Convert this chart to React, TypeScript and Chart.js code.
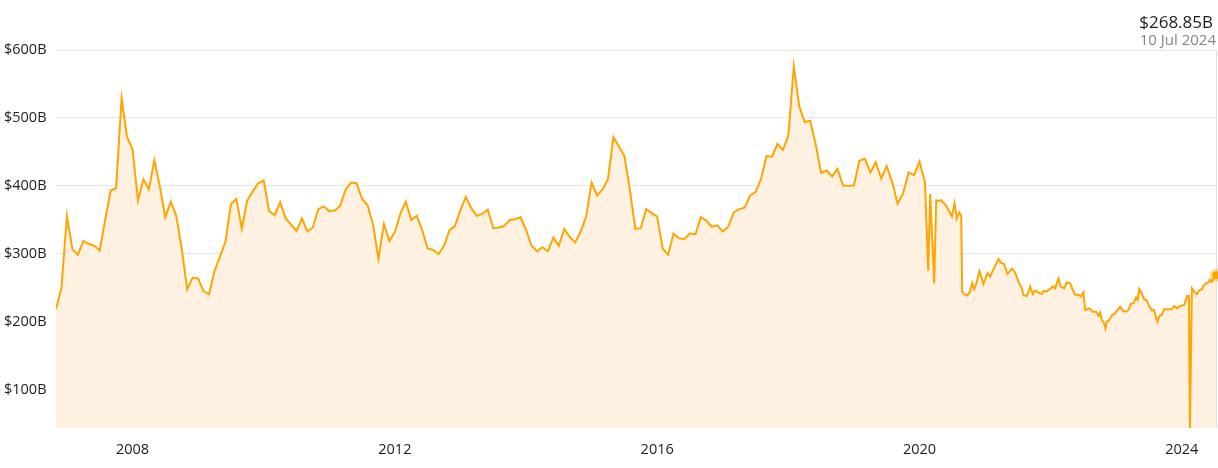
import React, { useEffect, useRef } from "react";
import { Chart, registerables } from "chart.js";

Chart.register(...registerables);

// Monthly market-cap values ($B) starting November 2006
const monthlyStartYear = 2006;
const monthlyStartMonth = 11;
const monthlyValues = [
  219, 250, 356, 307, 299, 319, 315, 312, 305, 350, 393, 397, 529, 472, 454, 379, 410, 395, 438, 399,
  354, 377, 356, 308, 248, 265, 264, 245, 241, 275, 296, 318, 373, 381, 337, 379, 392, 404, 408, 363,
  357, 376, 353, 343, 334, 352, 333, 339, 366, 370, 363, 364, 371, 395, 405, 404, 381, 372, 344, 293,
  344, 319, 332, 359, 377, 350, 356, 335, 308, 306, 300, 312, 335, 341, 365, 384, 367, 356, 359, 365,
  338, 339, 341, 350, 351, 354, 336, 312, 304, 310, 304, 324, 312, 337, 325, 317, 333, 355, 405, 386,
  395, 410, 472, 458, 444, 395, 337, 338, 366, 360, 355, 308, 299, 330, 323, 322, 330, 329, 354, 349,
  340, 342, 333, 340, 361, 366, 368, 386, 391, 410, 444, 443, 462, 453, 474, 576, 517, 494, 496, 461,
  419, 423, 414, 425, 401, 400, 401, 437, 440, 420, 435, 411, 429, 406, 374, 389, 420, 416, 436, 405,
];

// Denser recent observations (decimal year, $B)
const recentDates = [
  2020.133, 2020.163, 2020.224, 2020.255, 2020.29, 2020.326, 2020.407, 2020.494, 2020.534, 2020.57,
  2020.605, 2020.636, 2020.651, 2020.681, 2020.732, 2020.773, 2020.803, 2020.834, 2020.864, 2020.915,
  2020.976, 2021.037, 2021.078, 2021.139, 2021.204, 2021.241, 2021.291, 2021.341, 2021.409, 2021.459,
  2021.509, 2021.561, 2021.585, 2021.637, 2021.688, 2021.729, 2021.764, 2021.814, 2021.866, 2021.89,
  2021.931, 2021.982, 2022.034, 2022.069, 2022.119, 2022.155, 2022.206, 2022.247, 2022.297, 2022.338,
  2022.373, 2022.424, 2022.46, 2022.5, 2022.526, 2022.591, 2022.643, 2022.694, 2022.729, 2022.755,
  2022.78, 2022.816, 2022.835, 2022.857, 2022.896, 2022.933, 2022.983, 2023.018, 2023.059, 2023.101,
  2023.151, 2023.186, 2023.223, 2023.262, 2023.303, 2023.329, 2023.349, 2023.39, 2023.425, 2023.466,
  2023.506, 2023.543, 2023.578, 2023.608, 2023.628, 2023.659, 2023.695, 2023.73, 2023.796, 2023.848,
  2023.884, 2023.925, 2023.975, 2024.036, 2024.079, 2024.108, 2024.123, 2024.154, 2024.189, 2024.23,
  2024.268, 2024.305, 2024.329, 2024.37, 2024.405, 2024.431, 2024.457, 2024.482, 2024.521,
];
const recentValues = [
  275.5, 388, 257, 379, 378, 379, 371, 355, 374.5, 352.5,
  361, 356, 244.6, 241, 239, 245, 257, 248, 256, 275,
  256, 271.6, 266.6, 280, 292.6, 287, 285, 270.6, 278.4, 272.5,
  259, 249.5, 239.7, 238, 252, 241, 246, 243, 241, 246,
  244.6, 248, 252, 249.5, 264, 252, 249.5, 258, 257, 247,
  240, 240, 237.3, 243.6, 217.6, 220, 215, 215, 209, 214,
  203, 198, 190.6, 200.5, 203, 210, 212.8, 217.6, 222.5, 216.7,
  215, 217.6, 226.5, 227.5, 236, 232.4, 248.5, 242, 233.4, 231.4,
  222.5, 216.7, 217.6, 205.4, 200.5, 208.8, 210.3, 218.6, 218.6, 219,
  223.5, 220, 223.5, 225, 238, 238, 44, 249.5, 244.6, 241,
  247, 248, 253, 257, 258, 262, 259, 262.8, 268.85,
];

const xTickYears = [2008, 2012, 2016, 2020, 2024];
const yTickValues = [100, 200, 300, 400, 500, 600];
const yMin = 44;
const yMax = 600;
const latestValueLabel = "$268.85B";
const latestDateLabel = "10 Jul 2024";

const LINE = "#FFA500";
const FILL = "#FEF1E1";
const GRID = "#E6E6E6";
const TEXT = "#1d1d1f";
const FONT = "'Open Sans', 'Noto Sans', sans-serif";

export default function App() {
  const canvasRef = useRef<HTMLCanvasElement | null>(null);

  useEffect(() => {
    if (!canvasRef.current) return;
    const points: { x: number; y: number }[] = [];
    monthlyValues.forEach((v, i) => {
      points.push({ x: monthlyStartYear + (monthlyStartMonth - 1) / 12 + i / 12, y: v });
    });
    recentDates.forEach((d, i) => points.push({ x: d, y: recentValues[i] }));
    const last = points.length - 1;

    const overlay = {
      id: "overlay",
      afterDatasetsDraw(chart: any) {
        const { ctx, chartArea } = chart;
        ctx.save();
        // right frame line
        ctx.strokeStyle = "#E2E2E2";
        ctx.lineWidth = 1;
        ctx.beginPath();
        ctx.moveTo(chartArea.right + 0.5, chartArea.top);
        ctx.lineTo(chartArea.right + 0.5, chartArea.bottom);
        ctx.stroke();
        // latest-value marker
        const el = chart.getDatasetMeta(0).data[last];
        if (el) {
          ctx.beginPath();
          ctx.arc(el.x, el.y, 6.5, 0, Math.PI * 2);
          ctx.fillStyle = "rgba(255,165,0,0.35)";
          ctx.fill();
          ctx.beginPath();
          ctx.arc(el.x, el.y, 4, 0, Math.PI * 2);
          ctx.fillStyle = LINE;
          ctx.fill();
        }
        ctx.restore();
      },
    };

    const chart = new Chart(canvasRef.current, {
      type: "line",
      data: {
        datasets: [
          {
            data: points,
            borderColor: LINE,
            borderWidth: 2,
            backgroundColor: FILL,
            fill: "start",
            tension: 0,
            pointRadius: 0,
            pointHoverRadius: 0,
          },
        ],
      },
      options: {
        animation: false,
        responsive: false,
        maintainAspectRatio: false,
        events: [],
        layout: { autoPadding: false, padding: { top: 50, left: 4, right: 2, bottom: 0 } },
        plugins: { legend: { display: false }, tooltip: { enabled: false } },
        scales: {
          x: {
            type: "linear",
            min: points[0].x,
            max: points[last].x,
            afterBuildTicks: (s: any) => {
              s.ticks = xTickYears.map((v) => ({ value: v }));
            },
            afterFit: (s: any) => {
              s.height = 40;
            },
            ticks: {
              callback: (v: any) => String(v),
              autoSkip: false,
              maxRotation: 0,
              padding: 13,
              color: TEXT,
              font: { family: FONT, size: 14.5 },
            },
            grid: { display: false, drawTicks: false },
            border: { display: false },
          },
          y: {
            min: yMin,
            max: yMax,
            afterBuildTicks: (s: any) => {
              s.ticks = yTickValues.map((v) => ({ value: v }));
            },
            afterFit: (s: any) => {
              s.width = 52;
            },
            ticks: {
              callback: (v: any) => "$" + v + "B",
              crossAlign: "far",
              padding: 0,
              color: TEXT,
              font: { family: FONT, size: 14.5 },
            },
            grid: { color: GRID, drawTicks: false },
            border: { display: false },
          },
        },
      },
      plugins: [overlay],
    } as any);
    return () => chart.destroy();
  }, []);

  return (
    <div style={{ position: "fixed", left: 0, top: 0, width: 1218, height: 468, background: "#fff" }}>
      <canvas ref={canvasRef} width={1218} height={468} style={{ display: "block" }} />
      <div
        style={{
          position: "absolute",
          right: 5,
          top: 10,
          fontFamily: FONT,
          fontSize: 17,
          color: TEXT,
          lineHeight: "normal",
          whiteSpace: "nowrap",
        }}
      >
        {latestValueLabel}
      </div>
      <div
        style={{
          position: "absolute",
          right: 2,
          top: 29,
          fontFamily: FONT,
          fontSize: 15,
          color: "#858585",
          lineHeight: "normal",
          whiteSpace: "nowrap",
        }}
      >
        {latestDateLabel}
      </div>
    </div>
  );
}
